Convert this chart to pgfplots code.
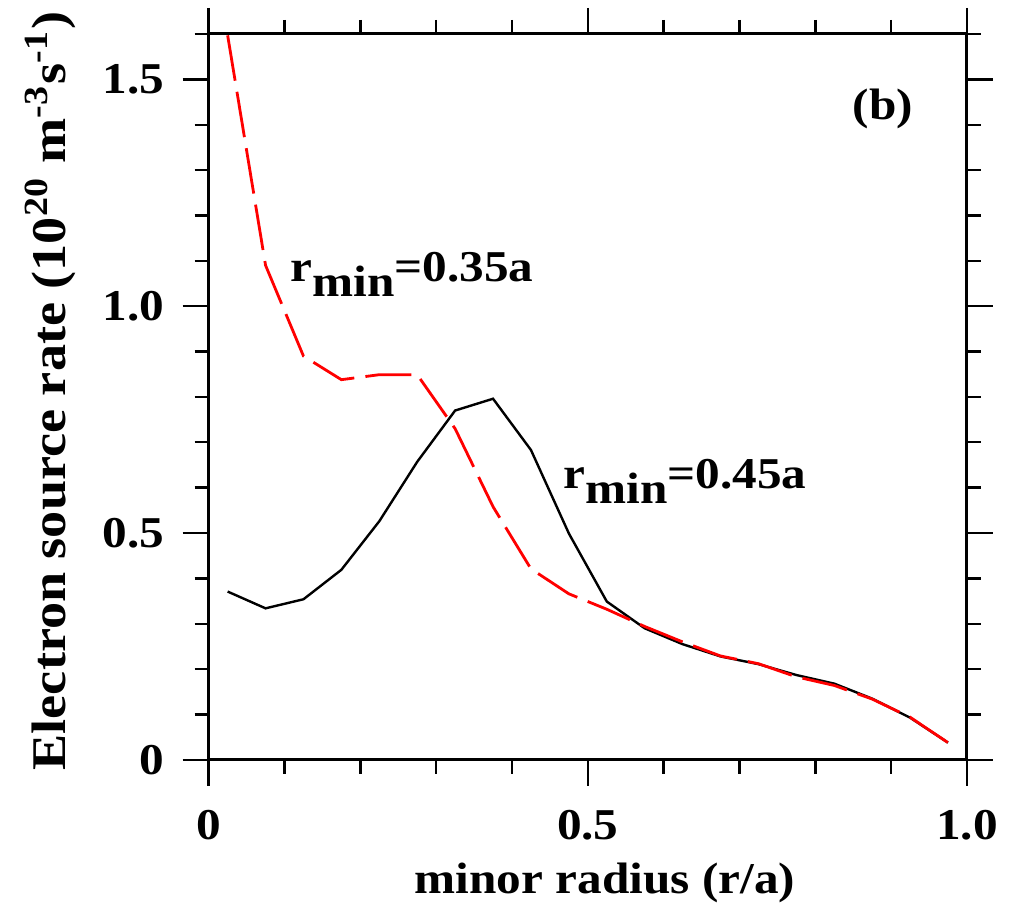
\documentclass[border=0pt]{standalone}
\usepackage{fontspec}
\setmainfont{Liberation Serif}[FakeStretch=1.12]
\usepackage{pgfplots}
\pgfplotsset{compat=1.18}

\newcommand\lbl{\fontsize{11}{13}\selectfont\bfseries}

\begin{document}
\begin{tikzpicture}
\begin{axis}[
    scale only axis,
    width=189.6pt, height=181.5pt,
    xmin=0, xmax=1, ymin=0, ymax=1.6,
    axis line style={line width=0.75pt},
    tick style={line width=0.6pt, black},
    tick align=outside,
    major tick length=6.5pt,
    minor tick length=3.5pt,
    xtick={0,0.5,1}, xticklabels={0,0.5,1.0},
    minor xtick={0.1,0.2,0.3,0.4,0.6,0.7,0.8,0.9},
    ytick={0,0.5,1,1.5}, yticklabels={0,0.5,1.0,1.5},
    minor ytick={0.1,0.2,0.3,0.4,0.6,0.7,0.8,0.9,1.1,1.2,1.3,1.4,1.6},
    tick label style={font=\lbl},
    xticklabel style={yshift=-2.5pt},
    yticklabel style={xshift=-1pt},
    xlabel={minor radius (r/a)},
    ylabel={Electron source rate (10\textsuperscript{20} m\textsuperscript{-3}s\textsuperscript{-1})},
    xlabel style={font=\lbl, at={(axis description cs:0.5226,-0.1405)}, anchor=north, inner sep=0pt},
    ylabel style={font=\fontsize{12.1}{14}\selectfont\bfseries,
        at={(axis description cs:-0.2427,0.508)}, anchor=north, inner sep=0pt},
    clip=false,
]
%-- r_min = 0.45a
\addplot[black, line width=0.6pt] coordinates {
    (0.025,0.371)(0.075,0.334)(0.125,0.354)(0.175,0.419)(0.225,0.526)
    (0.275,0.657)(0.325,0.770)(0.375,0.796)(0.425,0.683)(0.475,0.499)
    (0.525,0.349)(0.575,0.290)(0.625,0.255)(0.675,0.228)(0.725,0.211)
    (0.775,0.187)(0.825,0.168)(0.875,0.135)(0.925,0.093)(0.975,0.038)
};
%-- r_min = 0.35a
\addplot[red, line width=0.7pt, dash pattern=on 11.5pt off 2.8pt] coordinates {
    (0.025,1.597)(0.075,1.090)(0.125,0.890)(0.175,0.838)(0.225,0.849)
    (0.275,0.849)(0.325,0.730)(0.375,0.558)(0.425,0.421)(0.475,0.366)
    (0.525,0.332)(0.575,0.294)(0.625,0.260)(0.675,0.229)(0.725,0.212)
    (0.775,0.183)(0.825,0.164)(0.875,0.134)(0.925,0.094)(0.975,0.038)
};
\node[font=\lbl, anchor=center] at (axis cs:0.889,1.435) {(b)};
\node[font=\lbl, anchor=base west, inner sep=0pt] at (axis cs:0.107,1.0547)
    {r\raisebox{-3.75pt}{min}=0.35a};
\node[font=\lbl, anchor=base west, inner sep=0pt] at (axis cs:0.467,0.598)
    {r\raisebox{-3.75pt}{min}=0.45a};
\coordinate (bbsw) at (rel axis cs:-0.2752,-0.2052);
\coordinate (bbne) at (rel axis cs:1.0607,1.0468);
\end{axis}
\pgfresetboundingbox
\path[use as bounding box] (bbsw) rectangle (bbne);
\end{tikzpicture}
\end{document}
